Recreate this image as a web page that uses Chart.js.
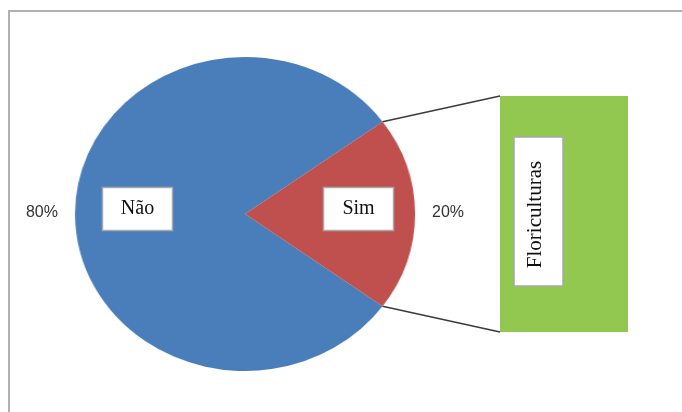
<!DOCTYPE html>
<html>
<head>
<meta charset="utf-8">
<script src="https://cdn.jsdelivr.net/npm/chart.js@4/dist/chart.umd.min.js"></script>
<style>
  body { margin: 0; background: #fff; }
  #wrap { position: relative; width: 682px; height: 412px; overflow: hidden; background: #fff; }
  #frame { position: absolute; left: 8px; top: 10px; width: 700px; height: 420px;
           border-top: 2px solid #b0b0b0; border-left: 2px solid #b0b0b0; }
  #pieBox { position: absolute; left: 85px; top: 54px; width: 320px; height: 320px;
            transform: scaleX(1.083); transform-origin: 160px 160px; }
  #barBox { position: absolute; left: 0; top: 0; width: 682px; height: 412px; }
</style>
</head>
<body>
<div id="wrap">
  <div id="frame"></div>
  <div id="pieBox"><canvas id="pie-chart" width="320" height="320"></canvas></div>
  <div id="barBox"><canvas id="bar-chart" width="682" height="412"></canvas></div>
</div>
<script>
// data
const pieLabels = ['Não', 'Sim'];
const pieValues = [80, 20];
const pieColors = ['#4a7ebb', '#c0504d'];
const barLabels = ['Floriculturas'];
const barValues = [20];
const barColor = '#92c850';

// pie canvas geometry (must match the css above)
const PIE_LEFT = 85, PIE_TOP = 54, PIE_SIZE = 320, STRETCH = 1.083;

function toPage(x, y) {
    return { x: PIE_LEFT + PIE_SIZE / 2 + (x - PIE_SIZE / 2) * STRETCH, y: PIE_TOP + y };
}

function drawBox(ctx, cx, cy, w, h) {
    ctx.fillStyle = '#fff';
    ctx.fillRect(cx - w / 2, cy - h / 2, w, h);
    ctx.strokeStyle = '#a8a8a8';
    ctx.lineWidth = 1.5;
    ctx.strokeRect(cx - w / 2, cy - h / 2, w, h);
}

const pieChart = new Chart(document.getElementById('pie-chart'), {
    type: 'pie',
    data: {
        labels: pieLabels,
        datasets: [{
            data: pieValues,
            backgroundColor: pieColors,
            borderWidth: 0
        }]
    },
    options: {
        responsive: false,
        animation: false,
        rotation: 126,
        radius: 157,
        layout: { padding: 0 },
        plugins: { legend: { display: false }, tooltip: { enabled: false } }
    }
});

// connectors + labels drawn on top of everything
const overlay = {
    id: 'overlay',
    afterDraw(chart) {
        const ctx = chart.ctx;
        const arcs = pieChart.getDatasetMeta(0).data;
        const bar = chart.getDatasetMeta(0).data[0];
        const barLeft = bar.x - bar.width / 2;
        const barTop = Math.min(bar.y, bar.base);
        const barBottom = Math.max(bar.y, bar.base);
        const total = pieValues.reduce((a, b) => a + b, 0);

        ctx.save();

        // lines from the Sim slice to the bar
        const sim = arcs[1];
        const p1 = toPage(sim.x + sim.outerRadius * Math.cos(sim.startAngle), sim.y + sim.outerRadius * Math.sin(sim.startAngle));
        const p2 = toPage(sim.x + sim.outerRadius * Math.cos(sim.endAngle), sim.y + sim.outerRadius * Math.sin(sim.endAngle));
        ctx.strokeStyle = '#3a3a3a';
        ctx.lineWidth = 1.5;
        ctx.beginPath();
        ctx.moveTo(p1.x, p1.y);
        ctx.lineTo(barLeft, barTop);
        ctx.moveTo(p2.x, p2.y);
        ctx.lineTo(barLeft, barBottom);
        ctx.stroke();

        // slice labels
        ctx.textAlign = 'center';
        ctx.textBaseline = 'middle';
        arcs.forEach((arc, i) => {
            const mid = (arc.startAngle + arc.endAngle) / 2;
            const c = toPage(arc.x, arc.y);
            const rx = arc.outerRadius * STRETCH;
            const bx = c.x + Math.cos(mid) * rx * 0.65 + 3;
            const by = c.y + Math.sin(mid) * arc.outerRadius * 0.65 - 5;
            drawBox(ctx, bx, by, 70, 43);
            ctx.fillStyle = '#111';
            ctx.font = '20px "Liberation Serif", serif';
            ctx.fillText(pieLabels[i], bx, by);

            const px = c.x + Math.cos(mid) * (rx + 33);
            const py = c.y + Math.sin(mid) * (arc.outerRadius + 33) - 1;
            ctx.fillStyle = '#333';
            ctx.font = '16px "Liberation Sans", sans-serif';
            ctx.fillText(Math.round(pieValues[i] / total * 100) + '%', px, py);
        });

        // bar label, rotated
        const lx = barLeft + 38.5;
        const ly = (barTop + barBottom) / 2 - 2.5;
        drawBox(ctx, lx, ly, 49, 149);
        ctx.translate(lx - 3, ly + 3);
        ctx.rotate(-Math.PI / 2);
        ctx.fillStyle = '#111';
        ctx.font = '21px "Liberation Serif", serif';
        ctx.fillText(barLabels[0], 0, 0);

        ctx.restore();
    }
};

const barChart = new Chart(document.getElementById('bar-chart'), {
    type: 'bar',
    data: {
        labels: ['Sim'],
        datasets: [{
            label: barLabels[0],
            data: barValues,
            backgroundColor: barColor,
            borderWidth: 0,
            barPercentage: 1,
            categoryPercentage: 1
        }]
    },
    options: {
        responsive: false,
        animation: false,
        layout: { padding: { left: 500, right: 54, top: 96, bottom: 80 } },
        scales: {
            x: { display: false },
            y: { display: false, min: 0, max: 20, stacked: true }
        },
        plugins: { legend: { display: false }, tooltip: { enabled: false } }
    },
    plugins: [overlay]
});
</script>
</body>
</html>
